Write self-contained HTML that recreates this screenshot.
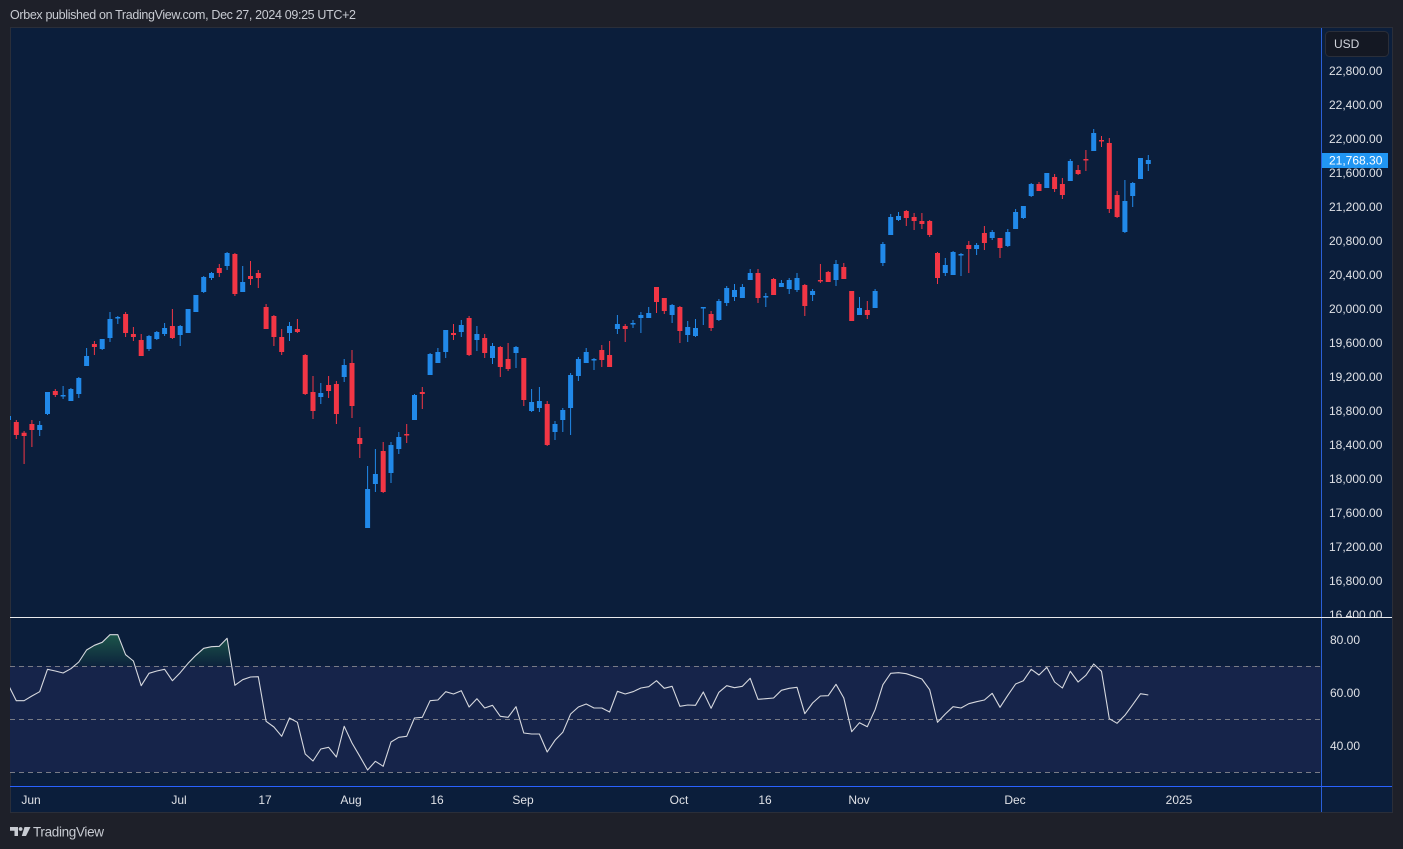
<!DOCTYPE html>
<html><head><meta charset="utf-8"><style>
html,body{margin:0;padding:0;background:#1e2029;}
svg{display:block;font-family:"Liberation Sans",Arial,sans-serif;}
</style></head><body>
<svg width="1403" height="849" viewBox="0 0 1403 849" xmlns="http://www.w3.org/2000/svg">
<defs>
<clipPath id="cp"><rect x="10" y="28" width="1311" height="589"/></clipPath>
<clipPath id="cr"><rect x="10" y="618" width="1311" height="168"/></clipPath>
<clipPath id="cg"><rect x="10" y="618" width="1311" height="48"/></clipPath>
<linearGradient id="gg" x1="0" y1="634" x2="0" y2="666" gradientUnits="userSpaceOnUse">
<stop offset="0" stop-color="rgb(40,125,85)" stop-opacity="0.6"/>
<stop offset="1" stop-color="rgb(40,125,85)" stop-opacity="0.05"/>
</linearGradient>
</defs>
<rect width="1403" height="849" fill="#1e2029"/>
<text x="10" y="19" font-size="12.5" fill="#c8cbd2" textLength="346">Orbex published on TradingView.com, Dec 27, 2024 09:25 UTC+2</text>
<rect x="10.5" y="27.5" width="1382" height="785" fill="#0b1e3b" stroke="#2a2e39"/>
<!-- RSI band -->
<rect x="10" y="666" width="1311" height="106" fill="#16244a"/>
<g stroke="#787b86" stroke-width="1" stroke-dasharray="5 4">
<line x1="10" y1="666.5" x2="1321" y2="666.5"/>
<line x1="10" y1="719.5" x2="1321" y2="719.5"/>
<line x1="10" y1="772.5" x2="1321" y2="772.5"/>
</g>
<!-- candles -->
<g clip-path="url(#cp)">
<path fill="none" stroke="#f23645" stroke-width="1" d="M16.3 420V439M24.1 431V464M31.9 420V447M55.3 389V397M94.4 341V355M125.6 312V337M133.4 327V341M141.2 334V356M172.4 309V339M219.3 264V277M234.9 253V296M250.5 261V285M258.3 270V288M266.1 304V329M273.9 315V346M281.7 329V355M297.4 319V333M305.2 354V395M313 376V419M328.6 376V398M336.4 381V424M352 350V418M359.8 427V458M383.2 442V493M406.7 424V443M422.3 387V409M453.5 324V340M469.1 316V356M484.7 334V358M500.3 346V377M508.1 343V371M523.8 358V406M547.2 401V446M601.8 345V367M609.6 341V367M625.2 324V342M656.5 287V313M664.3 298V314M679.9 306V343M711.1 311V331M758 269V303M773.6 278V295M804.8 284V316M820.4 264V283M828.2 271V282M843.8 263V279M851.7 291V321M867.3 301V319M906.3 210V226M914.1 213V230M921.9 213V229M929.7 220V237M937.5 252V284M968.8 241V273M984.4 226V250M1000 238V258M1039 182V191M1054.6 174V192M1062.4 178V199M1078.1 165V175M1085.9 150V171M1101.5 136V147M1109.3 138V213M1117.1 191V218"/>
<path fill="#f23645" d="M13.8 422h5v13h-5zM21.6 432.7h5v3.3h-5zM29.4 424h5v6h-5zM52.8 391h5v4h-5zM91.9 344h5v3h-5zM123.1 314h5v19h-5zM130.9 334h5v3h-5zM138.7 340h5v16h-5zM169.9 326h5v12h-5zM216.8 268h5v5h-5zM232.4 254h5v40h-5zM248 276h5v3h-5zM255.8 273h5v5h-5zM263.6 307h5v22h-5zM271.4 316h5v21h-5zM279.2 337h5v15h-5zM294.9 329h5v3h-5zM302.7 355h5v39h-5zM310.5 392h5v19h-5zM326.1 385h5v6h-5zM333.9 384h5v30h-5zM349.5 363h5v43h-5zM357.3 438h5v6h-5zM380.7 451h5v41h-5zM404.2 434h5v1.5h-5zM419.8 392h5v2h-5zM451 333h5v2h-5zM466.6 318h5v37h-5zM482.2 338h5v15h-5zM497.8 347h5v20h-5zM505.6 359h5v10h-5zM521.3 358h5v42h-5zM544.7 404h5v41h-5zM599.3 350h5v10h-5zM607.1 355h5v12h-5zM622.7 326h5v3h-5zM654 287h5v15h-5zM661.8 298h5v13h-5zM677.4 307h5v24h-5zM708.6 314h5v14h-5zM755.5 273h5v25h-5zM771.1 279h5v16h-5zM802.3 285h5v21h-5zM817.9 280h5v1.5h-5zM825.7 272h5v10h-5zM841.3 267h5v12h-5zM849.2 291h5v30h-5zM864.8 310h5v5h-5zM903.8 211h5v7h-5zM911.6 217h5v4h-5zM919.4 221h5v3h-5zM927.2 221h5v14h-5zM935 253h5v25h-5zM966.3 245h5v4h-5zM981.9 233h5v10h-5zM997.5 238h5v10h-5zM1036.5 184h5v7h-5zM1052.1 177h5v12h-5zM1059.9 184h5v11h-5zM1075.6 170h5v4h-5zM1083.4 159h5v1.5h-5zM1099 140h5v1.5h-5zM1106.8 143h5v66h-5zM1114.6 195h5v22h-5z"/>
<path fill="none" stroke="#2189e9" stroke-width="1" d="M39.7 421V436M47.5 392V415M63.1 386V399M70.9 388V401M78.8 377V398M86.6 348V366M102.2 339V350M110 312V342M117.8 316V324M149 335V351M156.8 331V340M164.6 323V336M180.2 325V346M203.7 276V293M211.5 272V280M227.1 252V270M242.7 266V292M289.5 322V341M320.8 383V404M344.2 359V382M367.6 466V528M375.4 449V492M391 442V483M398.8 432V454M414.5 394V420M430.1 353V375M437.9 348V363M445.7 330V358M461.3 320V337M476.9 326V351M492.5 343V364M516 346V368M531.6 389V412M539.4 387V412M555 421V440M562.8 408V432M570.6 373V435M578.4 357V381M586.2 348V363M594 358V370M617.4 315V334M633 320V328M640.9 312V333M648.7 307V318M672.1 304V323M687.7 321V342M695.5 319V337M703.3 307V325M718.9 299V321M726.7 286V306M734.5 284V301M742.4 284V298M750.2 269V280M765.8 293V307M781.4 280V287M789.2 278V294M797 273V292M812.6 289V301M836 260V286M859.5 297V315M875.1 289V308M882.9 242V266M890.7 214V235M898.5 212V221M945.3 258V276M953.1 251V275M961 253V276M976.6 243V255M992.2 230V240M1007.8 229V247M1015.6 209V229M1023.4 206V219M1031.2 183V197M1070.3 159V181M1093.7 129V151M1124.9 180V233M1132.7 182V207M1148.3 155V171"/>
<path fill="#2189e9" d="M6 416h5v4h-5zM37.2 425h5v5h-5zM45 392h5v22h-5zM60.6 395h5v1.5h-5zM68.4 389h5v12h-5zM76.3 378h5v16h-5zM84.1 356h5v10h-5zM99.7 339h5v10h-5zM107.5 319h5v19h-5zM115.3 317h5v1.5h-5zM146.5 336h5v13h-5zM154.3 332h5v7h-5zM162.1 328h5v6h-5zM177.7 326h5v9h-5zM185.6 309h5v24h-5zM193.4 295h5v17h-5zM201.2 277h5v15h-5zM209 273h5v5h-5zM224.6 253h5v13h-5zM240.2 282h5v10h-5zM287 326h5v7h-5zM318.3 393h5v4h-5zM341.7 365h5v12h-5zM365.1 489h5v39h-5zM372.9 474h5v10h-5zM388.5 445h5v28h-5zM396.3 437h5v12h-5zM412 395h5v25h-5zM427.6 354h5v21h-5zM435.4 352h5v11h-5zM443.2 330h5v22h-5zM458.8 325h5v7h-5zM474.4 334h5v6h-5zM490 346h5v12h-5zM513.5 347h5v6h-5zM529.1 402h5v9h-5zM536.9 401h5v7h-5zM552.5 424h5v8h-5zM560.3 410h5v10h-5zM568.1 375h5v33h-5zM575.9 359h5v17h-5zM583.7 352h5v11h-5zM591.5 359h5v1.5h-5zM614.9 324h5v5h-5zM630.5 323h5v1.5h-5zM638.4 315h5v3h-5zM646.2 313h5v5h-5zM669.6 305h5v10h-5zM685.2 327h5v8h-5zM693 328h5v8h-5zM700.8 307h5v1.5h-5zM716.4 301h5v19h-5zM724.2 288h5v15h-5zM732 290h5v7h-5zM739.9 287h5v11h-5zM747.7 273h5v7h-5zM763.3 296h5v1.5h-5zM778.9 283h5v4h-5zM786.7 280h5v9h-5zM794.5 278h5v12h-5zM810.1 291h5v4h-5zM833.5 264h5v16h-5zM857 308h5v7h-5zM872.6 291h5v17h-5zM880.4 244h5v19h-5zM888.2 217h5v18h-5zM896 216h5v4h-5zM942.8 265h5v8h-5zM950.6 252h5v23h-5zM958.5 254h5v1.5h-5zM974.1 245h5v4h-5zM989.7 232h5v6h-5zM1005.3 232h5v14h-5zM1013.1 212h5v17h-5zM1020.9 206h5v12h-5zM1028.7 184h5v12h-5zM1044.3 173h5v15h-5zM1067.8 161h5v20h-5zM1091.2 133h5v18h-5zM1122.4 201h5v31h-5zM1130.2 183h5v13h-5zM1138 158h5v21h-5zM1145.8 160h5v4h-5z"/>
</g>
<!-- RSI -->
<g clip-path="url(#cg)">
<polygon fill="url(#gg)" points="70.9,668.7 78.8,662 86.6,650 94.4,645.3 102.2,642.3 110,634.7 117.8,634.7 125.6,654.7 133.4,661 141.2,685.7 149,673.3 156.8,671 164.6,669.3 172.4,680.7 180.2,672.7 188.1,663.3 195.9,655.3 203.7,648.3 211.5,646.7 219.3,646.3 227.1,638.3 234.9,685.3"/>
</g>
<g clip-path="url(#cr)">
<polyline fill="none" stroke="#d6d8de" stroke-width="1.1" stroke-linejoin="round" points="8.5,685.3 16.3,700.7 24.1,700.7 31.9,696 39.7,691.7 47.5,669.3 55.3,671 63.1,673 70.9,668.7 78.8,662 86.6,650 94.4,645.3 102.2,642.3 110,634.7 117.8,634.7 125.6,654.7 133.4,661 141.2,685.7 149,673.3 156.8,671 164.6,669.3 172.4,680.7 180.2,672.7 188.1,663.3 195.9,655.3 203.7,648.3 211.5,646.7 219.3,646.3 227.1,638.3 234.9,685.3 242.7,679.7 250.5,677 258.3,676.7 266.1,721.3 273.9,727 281.7,736.3 289.5,718 297.4,722.3 305.2,754 313,761 320.8,749 328.6,747.3 336.4,757 344.2,726.3 352,743 359.8,756.3 367.6,770 375.4,761.3 383.2,766.3 391,742 398.8,737.3 406.7,736.3 414.5,718 422.3,717.3 430.1,700.7 437.9,700 445.7,691.7 453.5,694 461.3,690.7 469.1,707 476.9,698.7 484.7,708 492.5,705.3 500.3,716.3 508.1,717.3 516,706.7 523.8,733 531.6,734 539.4,734 547.2,752 555,740.3 562.8,732.3 570.6,714 578.4,707 586.2,704 594,708 601.8,708 609.6,712 617.4,691.3 625.2,694 633,691.7 640.9,688 648.7,686.7 656.5,680.7 664.3,688.3 672.1,686.3 679.9,706.3 687.7,705 695.5,705.3 703.3,692 711.1,708.3 718.9,692.3 726.7,685.7 734.5,687.7 742.4,686.3 750.2,678.3 758,699.3 765.8,698.7 773.6,698 781.4,690.3 789.2,688.3 797,687.3 804.8,713.7 812.6,703 820.4,696 828.2,695.7 836,684.3 843.8,698 851.7,731.7 859.5,722.7 867.3,726.7 875.1,709.7 882.9,684.7 890.7,673.3 898.5,672.7 906.3,673.7 914.1,676.3 921.9,679 929.7,689.7 937.5,722.3 945.3,714 953.1,706.7 961,708 968.8,703.7 976.6,701.7 984.4,700 992.2,693.3 1000,707.3 1007.8,695.3 1015.6,684 1023.4,680.7 1031.2,669.3 1039,675 1046.8,667.3 1054.6,682 1062.4,688 1070.3,671.3 1078.1,682 1085.9,675.3 1093.7,664 1101.5,671.3 1109.3,718.7 1117.1,723.3 1124.9,715.3 1132.7,704.7 1140.5,693.7 1148.3,695"/>
</g>
<!-- price axis labels -->
<g font-size="12" fill="#dfe1e6">
<text x="1329" y="75">22,800.00</text>
<text x="1329" y="109">22,400.00</text>
<text x="1329" y="143">22,000.00</text>
<text x="1329" y="177">21,600.00</text>
<text x="1329" y="211">21,200.00</text>
<text x="1329" y="245">20,800.00</text>
<text x="1329" y="279">20,400.00</text>
<text x="1329" y="313">20,000.00</text>
<text x="1329" y="347">19,600.00</text>
<text x="1329" y="381">19,200.00</text>
<text x="1329" y="415">18,800.00</text>
<text x="1329" y="449">18,400.00</text>
<text x="1329" y="483">18,000.00</text>
<text x="1329" y="517">17,600.00</text>
<text x="1329" y="551">17,200.00</text>
<text x="1329" y="585">16,800.00</text>
<text x="1329" y="619">16,400.00</text>
<text x="1330" y="644">80.00</text>
<text x="1330" y="697">60.00</text>
<text x="1330" y="750">40.00</text>
</g>
<!-- cover below price-pane line in axis for 16,400 clip -->
<rect x="1322" y="618" width="70" height="3" fill="#0b1e3b"/>
<!-- current price label -->
<rect x="1322" y="153" width="66" height="15" fill="#2196f3"/>
<text x="1329" y="164.5" font-size="12" fill="#ffffff">21,768.30</text>
<!-- USD button -->
<rect x="1325.5" y="31.5" width="63" height="25" rx="4" fill="#141823" stroke="#2a2e39"/>
<text x="1334" y="48" font-size="12" fill="#d1d4dc">USD</text>
<!-- separators -->
<line x1="1321.5" y1="28" x2="1321.5" y2="812" stroke="#2a5fd8" stroke-width="1"/>
<line x1="10" y1="617.5" x2="1392" y2="617.5" stroke="#e8e9ec" stroke-width="1"/>
<line x1="10" y1="786.5" x2="1392" y2="786.5" stroke="#2962ff" stroke-width="1"/>
<!-- time axis -->
<g font-size="12" fill="#dfe1e6" text-anchor="middle">
<text x="31" y="804">Jun</text>
<text x="179" y="804">Jul</text>
<text x="265" y="804">17</text>
<text x="351" y="804">Aug</text>
<text x="437" y="804">16</text>
<text x="523" y="804">Sep</text>
<text x="679" y="804">Oct</text>
<text x="765" y="804">16</text>
<text x="859" y="804">Nov</text>
<text x="1015" y="804">Dec</text>
<text x="1179" y="804">2025</text>
</g>
<!-- TradingView logo -->
<g fill="#c8cbd2">
<path d="M10 827h8v9h-3.5v-5.2h-4.5z"/>
<circle cx="20.6" cy="829" r="1.9"/>
<path d="M24.5 827h6l-4.5 9h-4.2z"/>
</g>
<text x="33" y="836.5" font-size="13.5" fill="#c8cbd2" textLength="71">TradingView</text>
</svg>
</body></html>
